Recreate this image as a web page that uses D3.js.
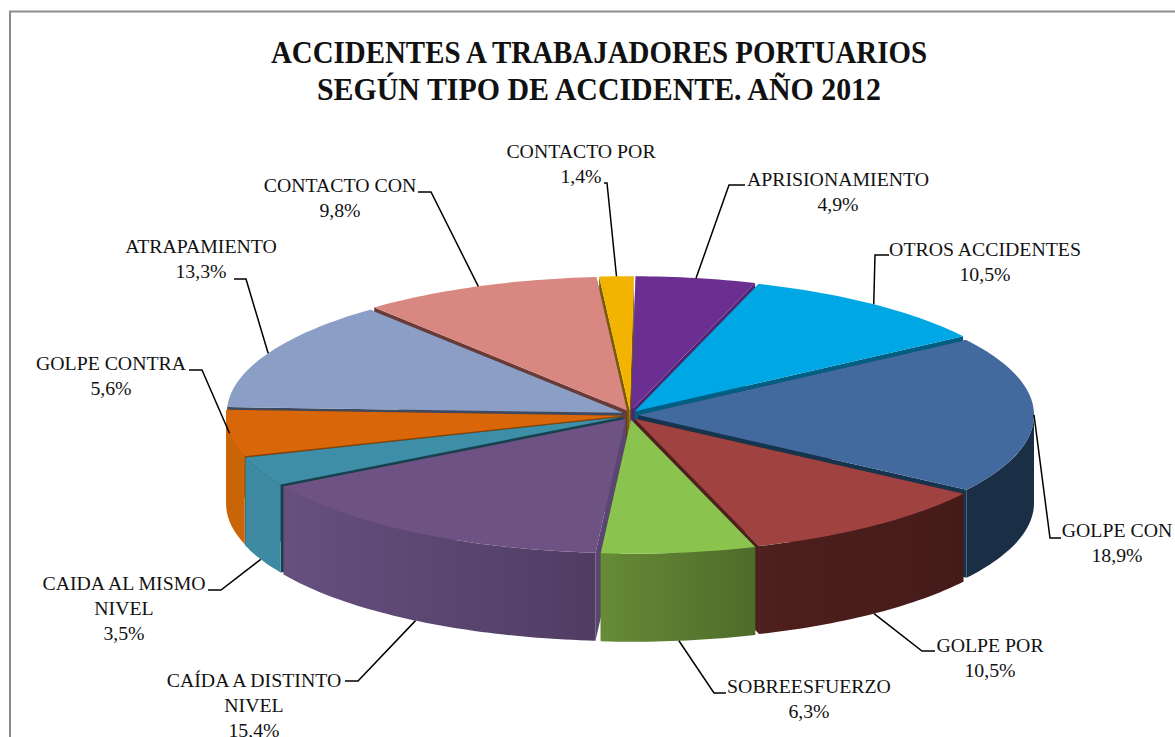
<!DOCTYPE html>
<html>
<head>
<meta charset="utf-8">
<script src="https://cdnjs.cloudflare.com/ajax/libs/d3/7.8.5/d3.min.js"></script>
<style>
  html, body { margin: 0; padding: 0; background: #fff; overflow: hidden; }
  text { font-family: "Liberation Serif", serif; fill: #111; }
</style>
</head>
<body>
<div id="chart"></div>
<script>
var titleLines = ["ACCIDENTES A TRABAJADORES PORTUARIOS", "SEGÚN TIPO DE ACCIDENTE. AÑO 2012"];

var categories = [
  ["APRISIONAMIENTO"],
  ["OTROS ACCIDENTES"],
  ["GOLPE CON"],
  ["GOLPE POR"],
  ["SOBREESFUERZO"],
  ["CAÍDA A DISTINTO", "NIVEL"],
  ["CAIDA AL MISMO", "NIVEL"],
  ["GOLPE CONTRA"],
  ["ATRAPAMIENTO"],
  ["CONTACTO CON"],
  ["CONTACTO POR"],
];
var values = [4.9, 10.5, 18.9, 10.5, 6.3, 15.4, 3.5, 5.6, 13.3, 9.8, 1.4];

// slice colours: top face, outer wall (left / right of the gradient), cut edge
var topColors = ["#6b2f92", "#00a7e5", "#426a9e", "#a04240", "#8bc34f", "#6d5283", "#3f8ea8", "#d96608", "#8b9fc6", "#d98781", "#f2b400"];
var wallLeft = ["#4f2570", "#006a90", "#1a2e45", "#4d1f1d", "#668c36", "#66507f", "#3e8aa2", "#c96506", "#5a6a85", "#a06460", "#b08500"];
var wallRight = ["#4f2570", "#006a90", "#1a2e45", "#451b19", "#4e6b2a", "#503c63", "#3e8aa2", "#c96506", "#5a6a85", "#a06460", "#b08500"];
var edgeColors = ["#4f2570", "#005f83", "#17344f", "#4f1f1d", "#55752c", "#5a4670", "#17424d", "#8a4100", "#3f4a60", "#6a3a36", "#7a5c00"];

// label placement: text centre, first baseline, leader elbow, leader end
var labelLayout = [
  { x: 838, y: 186, elbow: [729, 185], end: [745, 185] },
  { x: 985, y: 256, elbow: [875, 255], end: [889, 255] },
  { x: 1117, y: 537, elbow: [1050, 538], end: [1061, 538] },
  { x: 990, y: 652, elbow: [922, 651], end: [935, 651] },
  { x: 809, y: 693, elbow: [714, 693], end: [726, 693] },
  { x: 254, y: 687, elbow: [358, 681], end: [345, 681] },
  { x: 124, y: 590, elbow: [221, 590], end: [208, 590] },
  { x: 111, y: 370, elbow: [202, 370], end: [189, 370] },
  { x: 201, y: 253, elbow: [246, 279], end: [234, 279] },
  { x: 340, y: 192, elbow: [431, 192], end: [418, 192] },
  { x: 581, y: 158, elbow: [607, 183], end: [604, 183] },
];

var width = 1175,
  height = 737,
  cx = 630,
  cy = 415,
  rx = 396,
  ry = 134,
  depth = 88,
  explode = 8,
  firstAngle = 0.0105;

var svg = d3.select("#chart").append("svg").attr("width", width).attr("height", height);
var defs = svg.append("defs");

svg.append("rect")
  .attr("x", 10)
  .attr("y", 11.5)
  .attr("width", width + 100)
  .attr("height", height + 100)
  .attr("fill", "#fff")
  .attr("stroke", "#8c8c8c")
  .attr("stroke-width", 2);

// Liberation Serif runs wider than the original title font
var titleWidths = [656, 564];
svg.selectAll(".title")
  .data(titleLines)
  .enter()
  .append("text")
  .attr("class", "title")
  .attr("x", 599)
  .attr("y", (d, i) => 63 + i * 37)
  .attr("text-anchor", "middle")
  .attr("font-size", 32)
  .attr("font-weight", "bold")
  .attr("textLength", (d, i) => titleWidths[i])
  .attr("lengthAdjust", "spacingAndGlyphs")
  .text(d => d);

var slices = d3.pie()
  .sort(null)
  .startAngle(firstAngle)
  .endAngle(firstAngle + 2 * Math.PI)
  .value(d => d)(values)
  .map((d, i) => {
    var mid = (d.startAngle + d.endAngle) / 2;
    return {
      i: i,
      a0: d.startAngle,
      a1: d.endAngle,
      mid: mid,
      ox: explode * Math.sin(mid),
      oy: -explode * Math.cos(mid) * 0.6,
    };
  });

// angle 0 at the top, going clockwise, like d3.pie
function pt(s, a, drop) {
  return [
    cx + s.ox + rx * Math.sin(a),
    cy + s.oy - ry * Math.cos(a) + (drop || 0),
  ];
}

function apex(s, drop) {
  return [cx + s.ox, cy + s.oy + (drop || 0)];
}

function arcPoints(s, a0, a1, drop) {
  var n = Math.max(2, Math.ceil((a1 - a0) / 0.02));
  return d3.range(n + 1).map(k => pt(s, a0 + ((a1 - a0) * k) / n, drop));
}

var line = d3.line();

function topPath(s) {
  return line([apex(s)].concat(arcPoints(s, s.a0, s.a1))) + "Z";
}

function radialPath(s, a) {
  return line([apex(s), pt(s, a), pt(s, a, depth), apex(s, depth)]) + "Z";
}

function wallPath(s) {
  var a0 = Math.max(s.a0, Math.PI / 2),
    a1 = Math.min(s.a1, (3 * Math.PI) / 2);
  if (a1 <= a0) return null;
  return line(arcPoints(s, a0, a1).concat(arcPoints(s, a0, a1, depth).reverse())) + "Z";
}

slices.forEach(s => {
  var grad = defs.append("linearGradient").attr("id", "wall" + s.i);
  grad.append("stop").attr("offset", 0).attr("stop-color", wallLeft[s.i]);
  grad.append("stop").attr("offset", 1).attr("stop-color", wallRight[s.i]);
});

// back slices first, top faces after every wall
var backToFront = slices.slice().sort((a, b) => Math.cos(b.mid) - Math.cos(a.mid));
var pie = svg.append("g").attr("class", "pie");

backToFront.forEach(s => {
  pie.append("path").attr("d", radialPath(s, s.a0)).attr("fill", edgeColors[s.i]);
  pie.append("path").attr("d", radialPath(s, s.a1)).attr("fill", edgeColors[s.i]);
  var wall = wallPath(s);
  if (wall) pie.append("path").attr("d", wall).attr("fill", "url(#wall" + s.i + ")");
});

backToFront.forEach(s => {
  pie.append("path").attr("d", topPath(s)).attr("fill", topColors[s.i]);
});

// leaders start on the slice's outer edge, on the wall for the front slices
var leaders = svg.append("g").attr("class", "leaders");
slices.forEach(s => {
  var onWall = s.mid > Math.PI * 0.55 && s.mid < Math.PI * 1.4;
  var l = labelLayout[s.i];
  leaders.append("path")
    .attr("d", line([pt(s, s.mid, onWall ? depth : 0), l.elbow, l.end]))
    .attr("fill", "none")
    .attr("stroke", "#000")
    .attr("stroke-width", 1.5);
});

var labels = svg.append("g").attr("class", "labels");
slices.forEach(s => {
  var l = labelLayout[s.i];
  var rows = categories[s.i].concat(values[s.i].toFixed(1).replace(".", ",") + "%");
  rows.forEach((row, k) => {
    labels.append("text")
      .attr("x", l.x)
      .attr("y", l.y + k * 25)
      .attr("text-anchor", "middle")
      .attr("font-size", 19.8)
      .text(row);
  });
});
</script>
</body>
</html>
